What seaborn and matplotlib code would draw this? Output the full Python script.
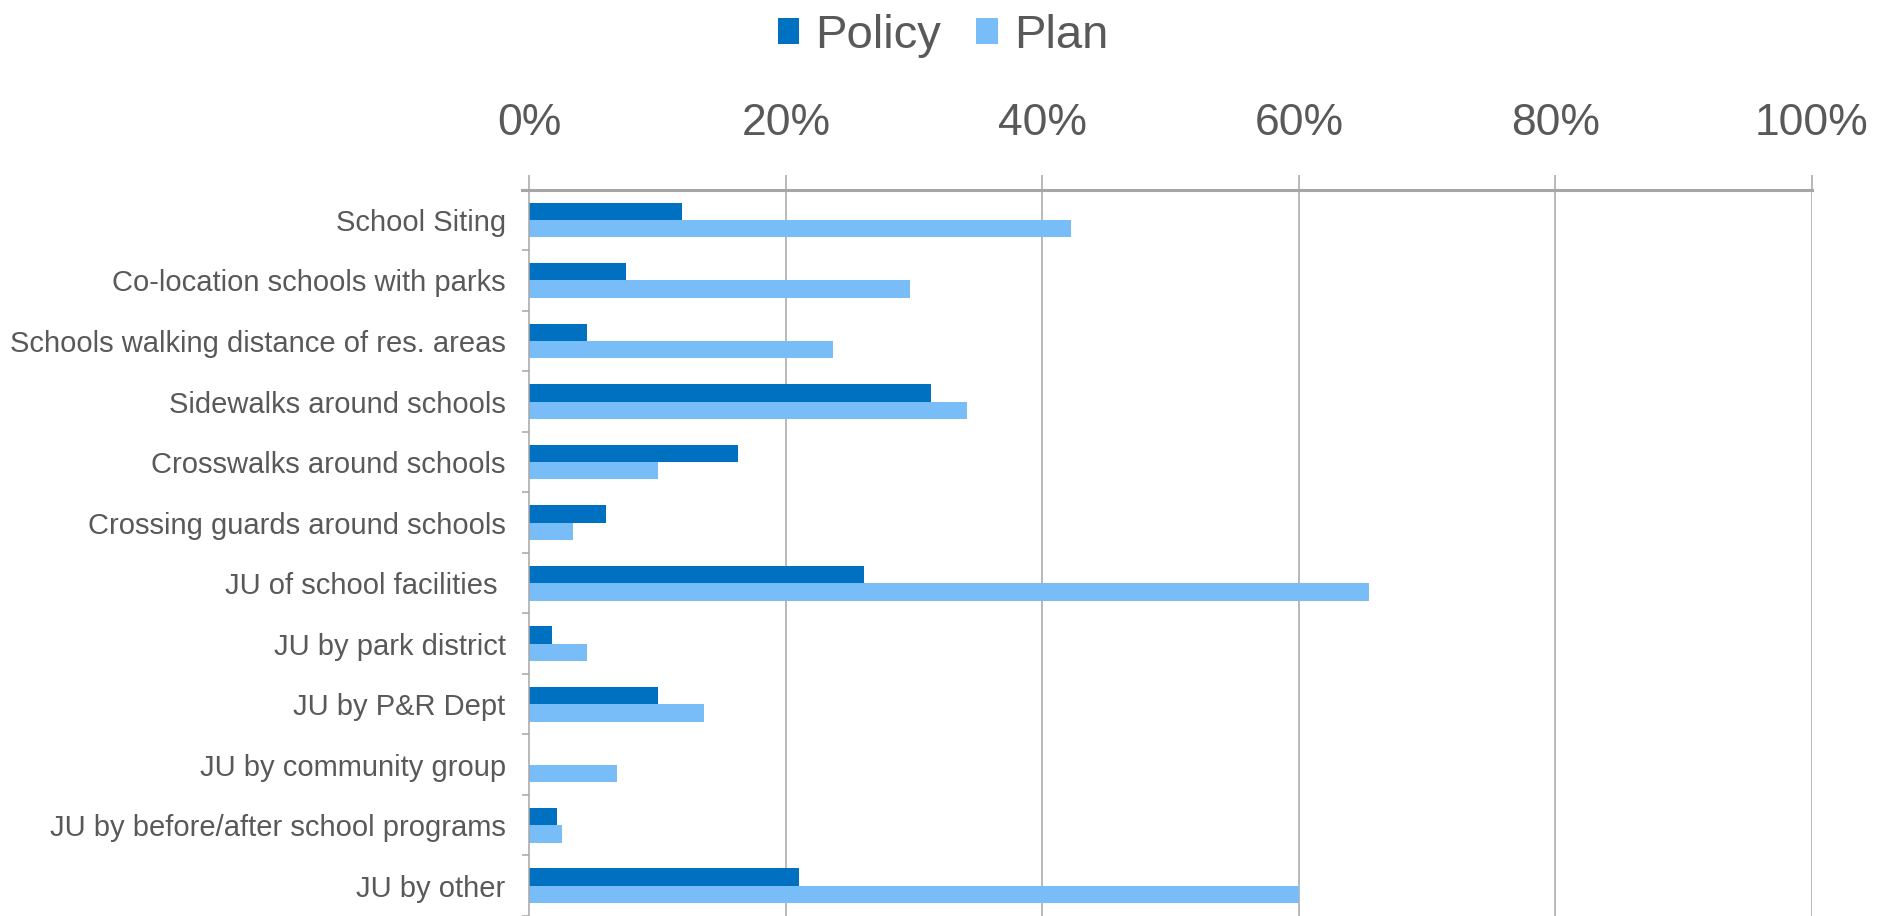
import matplotlib
matplotlib.use("Agg")
import matplotlib.pyplot as plt
import seaborn as sns
import pandas as pd
import numpy as np
from matplotlib.ticker import FixedLocator, PercentFormatter
from matplotlib.patches import Patch

categories = [
    "School Siting",
    "Co-location schools with parks",
    "Schools walking distance of res. areas",
    "Sidewalks around schools",
    "Crosswalks around schools",
    "Crossing guards around schools",
    "JU of school facilities ",
    "JU by park district",
    "JU by P&R Dept",
    "JU by community group",
    "JU by before/after school programs",
    "JU by other",
]
policy = [11.9, 7.5, 4.5, 31.3, 16.3, 6.0, 26.1, 1.8, 10.0, 0.0, 2.15, 21.0]
plan = [42.2, 29.7, 23.7, 34.1, 10.0, 3.4, 65.5, 4.5, 13.6, 6.8, 2.55, 60.0]
series = ["Policy", "Plan"]
x_ticks = [0, 20, 40, 60, 80, 100]

colors = {"Policy": "#0070C0", "Plan": "#78BCF8"}
text_color = "#595959"
grid_color = "#A6A6A6"

df = pd.DataFrame({
    "category": categories * 2,
    "value": policy + plan,
    "series": ["Policy"] * len(categories) + ["Plan"] * len(categories),
})

sns.set_theme(style="white")
plt.rcParams["font.family"] = ["Liberation Sans", "DejaVu Sans"]

fig = plt.figure(figsize=(18.79, 9.16), dpi=100)
ax = fig.add_axes([529.3 / 1879, 0.0, (1812 - 529.3) / 1879, 1 - 189.7 / 916])

sns.barplot(
    data=df, y="category", x="value", hue="series", order=categories,
    hue_order=series, palette=colors, orient="h", width=0.576, gap=0,
    saturation=1, linewidth=0, ax=ax, legend=False,
)

ax.set_xlim(0, 100)
ax.set_ylim(len(categories) - 0.5, -0.5)
ax.xaxis.set_major_locator(FixedLocator(x_ticks))
ax.xaxis.set_major_formatter(PercentFormatter(decimals=0))
ax.xaxis.tick_top()
ax.tick_params(axis="x", which="major", direction="out", length=10.8,
               width=1.1, color=grid_color, labelsize=32, labelcolor=text_color,
               pad=22)
ax.set_xlabel("")
ax.set_ylabel("")

# vertical gridlines
for v in x_ticks[1:]:
    ax.axvline(v, color=grid_color, linewidth=1.1, zorder=0)

# category separators on the left spine
ax.yaxis.set_minor_locator(FixedLocator(np.arange(-0.5, len(categories), 1.0)))
ax.tick_params(axis="y", which="major", length=0, labelsize=21, labelcolor=text_color,
               pad=17)
ax.tick_params(axis="y", which="minor", direction="out", length=5, width=1.1,
               color=grid_color, left=True)

for side in ["right", "bottom"]:
    ax.spines[side].set_visible(False)
ax.spines["left"].set_color(grid_color)
ax.spines["left"].set_linewidth(1.1)
ax.spines["top"].set_color(grid_color)
ax.spines["top"].set_linewidth(2.2)
ax.spines["top"].set_bounds(-0.6, 100)
ax.spines["top"].set_zorder(3)

handles = [Patch(facecolor=colors[s], edgecolor="none", label=s) for s in series]
fig.legend(handles=handles, loc="center", bbox_to_anchor=(943 / 1879, 1 - 36 / 916),
           ncol=2, frameon=False, fontsize=34, labelcolor=text_color,
           handlelength=0.45, handleheight=0.45, handletextpad=0.34,
           columnspacing=0.75)

fig.savefig("out.png", dpi=100)
